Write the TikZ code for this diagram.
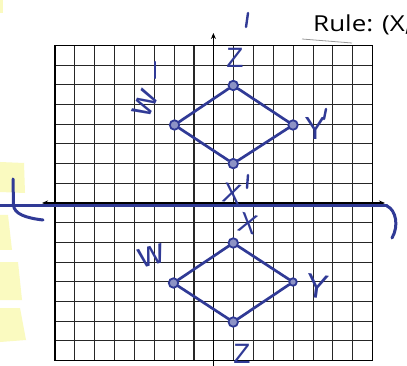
\documentclass[tikz,border=0pt]{standalone}
\usepackage{fontspec}
\setmainfont{Liberation Sans}
\newfontfamily\rulefont{Open Sans}
\usetikzlibrary{arrows.meta}
\definecolor{ink}{RGB}{48,58,150}
\definecolor{hl}{RGB}{250,250,192}
\begin{document}
\begin{tikzpicture}[x=1pt,y=-1pt,
  gridline/.style={black!85,line width=1.1pt},
  gridframe/.style={black,line width=1.4pt},
  axisline/.style={black,line width=1.4pt},
  edge/.style={ink,line width=2.7pt,line cap=round},
  vdot/.style={circle,draw=ink,fill=ink!55,line width=1.8pt,minimum size=9.5pt,inner sep=0pt},
  lbl/.style={text=ink,font=\fontsize{28}{28}\selectfont,inner sep=0pt},
  primemark/.style={ink,line width=2.4pt,line cap=round},
  refl/.style={ink,line width=3pt,line cap=round}]
\useasboundingbox (0,0) rectangle (407,366);
\fill[white] (0,0) rectangle (407,366);
% highlighter
\fill[hl] (0,162) -- (24,163) -- (25,193) -- (0,192) -- cycle;
\fill[hl] (0,215) -- (8,215) -- (12,250) -- (0,250) -- cycle;
\fill[hl] (0,262) -- (18,262) -- (22,300) -- (0,300) -- cycle;
\fill[hl] (0,308) -- (20,308) -- (26,340) -- (0,342) -- cycle;
\fill[hl] (0,0) rectangle (3,13);
% grid
\foreach \i in {1,...,15} {
  \draw[gridline] ({55+19.85*\i},45.4) -- ({55+19.85*\i},360.6);
  \draw[gridline] (55,{45.4+19.7*\i}) -- (372.6,{45.4+19.7*\i});
}
\draw[gridframe] (55,45.4) rectangle (372.6,360.6);
% axes
\coordinate (ytop) at (213.4,33);
\coordinate (ybot) at (213.4,366);
\coordinate (xl) at (42,203);
\coordinate (xr) at (385,203);
\draw[axisline,-{Stealth[length=6pt,width=5pt]}] (ybot) -- (ytop);
\draw[axisline,{Stealth[length=6pt,width=5pt]}-{Stealth[length=6pt,width=5pt]}] (xl) -- (xr);
% line of reflection (handwritten)
\coordinate (rl) at (0,206);
\coordinate (rr) at (387,206);
\draw[refl] (rl) -- (rr);
\draw[refl] (13,179) -- (13.5,205) .. controls (14,214) and (26,218) .. (43,220);
\draw[refl] (rr) .. controls (396,210) and (399,226) .. (392,238);
% faint mark under rule
\draw[black!40,line width=0.8pt] (302,39) -- (352,43);
% rule text
\node[anchor=base west,inner sep=0pt,font=\rulefont\fontsize{22}{22}\selectfont,xscale=1.18] (rule) at (313,32) {Rule: (X,};
% image vertices
\node[vdot] (Zp) at (233.25,85.5) {};
\node[vdot] (Wp) at (174.5,125) {};
\node[vdot] (Yp) at (293,125) {};
\node[vdot] (Xp) at (233.25,163.6) {};
% pre-image vertices
\node[vdot] (X) at (233.25,243) {};
\node[vdot] (W) at (173.5,283) {};
\node[vdot,minimum size=7.5pt] (Y) at (293,282) {};
\node[vdot] (Z) at (233.25,322) {};
\draw[edge] (Zp) -- (Yp) -- (Xp) -- (Wp) -- (Zp);
\draw[edge] (X) -- (Y) -- (Z) -- (W) -- (X);
% labels
\node[lbl] (lZp) at (235,58) {Z};
\draw[primemark] (248,13) -- (246,27);
\node[lbl,font=\fontsize{36}{36}\selectfont,rotate=65] (lWp) at (145,104) {w};
\draw[primemark] (155,62) -- (155,78);
\node[lbl,font=\fontsize{32}{32}\selectfont] (lYp) at (315,128) {Y};
\draw[primemark] (326,109) -- (324,119);
\node[lbl,rotate=-10] (lXp) at (232,194) {X};
\draw[primemark] (248,175) -- (247,188);
\node[lbl,rotate=-15] (lX) at (248,224) {X};
\node[lbl,font=\fontsize{36}{36}\selectfont,rotate=15] (lW) at (152,256) {w};
\node[lbl,font=\fontsize{34}{34}\selectfont,rotate=-8] (lY) at (317,286) {Y};
\node[lbl] (lZ) at (242,354) {Z};
\end{tikzpicture}
\end{document}
